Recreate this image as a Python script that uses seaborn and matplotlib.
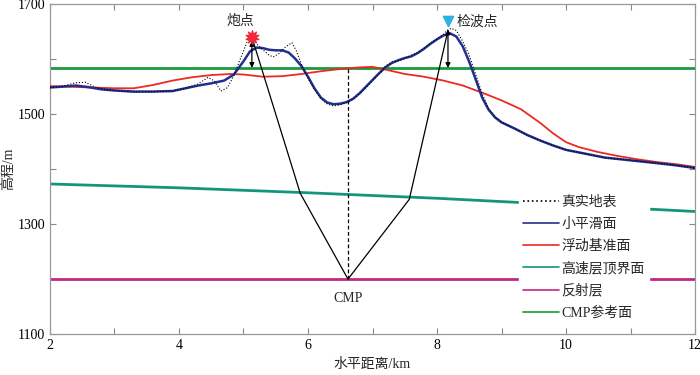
import numpy as np
import pandas as pd
import matplotlib
matplotlib.use('Agg')
import matplotlib.pyplot as plt
import seaborn as sns

# 真实地表 (dotted)
true_x = [2.0, 2.2, 2.4, 2.55, 2.7, 2.9, 3.3, 3.6, 3.9, 4.1, 4.3, 4.45, 4.55, 4.65, 4.75, 4.85,
          4.95, 5.05, 5.12, 5.2, 5.3, 5.4, 5.46, 5.55, 5.65, 5.75, 5.82, 5.9, 6.0, 6.1, 6.2, 6.3,
          6.4, 6.5, 6.6, 6.7, 6.8, 6.9, 7.0, 7.1, 7.2, 7.3, 7.4, 7.5, 7.6, 7.7, 7.8, 7.9, 8.0,
          8.1, 8.15, 8.22, 8.3, 8.4, 8.5, 8.6, 8.7, 8.8, 8.9, 9.0, 9.2, 9.4, 9.6, 9.8, 10.0,
          10.3, 10.6, 11.0, 11.4, 11.7, 12.0]
true_y = [1548, 1551, 1557, 1558, 1549, 1544, 1540, 1541, 1542, 1547, 1555, 1567, 1560, 1542, 1548, 1570,
          1600, 1630, 1644, 1628, 1617, 1607, 1604, 1610, 1622, 1630, 1615, 1590, 1565, 1545, 1528, 1518,
          1515, 1517, 1521, 1527, 1537, 1549, 1561, 1573, 1587, 1595, 1597, 1601, 1607, 1612, 1620, 1629, 1637,
          1645, 1652, 1656, 1652, 1632, 1607, 1572, 1537, 1510, 1495, 1486, 1474, 1462, 1452, 1443, 1435,
          1428, 1421, 1416, 1411, 1407, 1402]

# 小平滑面
smooth_x = [2.0, 2.2, 2.4, 2.6, 2.8, 3.0, 3.3, 3.6, 3.9, 4.1, 4.3, 4.5, 4.7, 4.85, 5.0, 5.1, 5.2,
            5.3, 5.4, 5.5, 5.6, 5.7, 5.8, 5.9, 6.0, 6.1, 6.2, 6.3, 6.4, 6.5, 6.6, 6.7, 6.8, 6.9,
            7.0, 7.1, 7.2, 7.3, 7.4, 7.5, 7.6, 7.7, 7.8, 7.9, 8.0, 8.1, 8.2, 8.3, 8.4, 8.5, 8.6,
            8.7, 8.8, 8.9, 9.0, 9.2, 9.4, 9.6, 9.8, 10.0, 10.3, 10.6, 11.0, 11.4, 11.7, 12.0]
smooth_y = [1548.5, 1550, 1552, 1549, 1545, 1543, 1541, 1541, 1542, 1547, 1552, 1556, 1561, 1572, 1596, 1614, 1621,
            1620, 1617, 1616, 1616, 1612, 1601, 1587, 1568, 1547, 1530, 1521, 1518, 1519, 1522, 1528, 1538, 1550,
            1562, 1574, 1585, 1593, 1598, 1602, 1605, 1611, 1619, 1628, 1636, 1643, 1647, 1641, 1623, 1595, 1563,
            1530, 1508, 1494, 1485, 1474, 1462, 1452, 1443, 1435, 1428, 1421, 1416, 1411, 1407, 1402]

# 浮动基准面
datum_x = [2.0, 2.5, 3.0, 3.3, 3.6, 3.9, 4.2, 4.5, 4.8, 5.0, 5.3, 5.6, 5.9, 6.2, 6.5, 6.8, 7.0,
           7.2, 7.5, 7.8, 8.1, 8.4, 8.7, 9.0, 9.3, 9.6, 9.8, 10.0, 10.2, 10.5, 10.8, 11.1, 11.4, 11.7, 12.0]
datum_y = [1551, 1549, 1547, 1547, 1553, 1561, 1567, 1571, 1573, 1572, 1568, 1569, 1573, 1578, 1582, 1585, 1586,
           1581, 1573, 1568, 1561, 1552, 1539, 1525, 1509, 1484, 1465, 1449, 1440, 1431, 1424, 1418, 1413, 1409, 1404]

# 高速层顶界面
fast_x = [2, 4, 6, 8, 10, 12]
fast_y = [1373, 1366, 1357, 1347, 1335, 1323]

# 反射层 / CMP参考面
refl_x = [2, 12]
refl_y = [1200, 1200]
cmpref_x = [2, 12]
cmpref_y = [1583, 1583]

# ray path shot -> CMP -> receiver
ray_x = [5.13, 5.88, 6.62, 7.57, 8.17]
ray_y = [1640, 1356, 1200, 1345, 1652]

shot_x, shot_y = 5.13, 1640
recv_x, recv_y = 8.17, 1669
cmp_x = 6.62

sns.set_theme(style='ticks')
plt.rcParams['font.family'] = ['Liberation Serif', 'Noto Sans CJK SC']
plt.rcParams['axes.unicode_minus'] = False

fig = plt.figure(figsize=(7, 3.75), dpi=100)
ax = fig.add_axes([0.0714, 0.109, 0.9215, 0.88])

sns.lineplot(x=cmpref_x, y=cmpref_y, color='#1a9a3c', linewidth=2.0, ax=ax, label='CMP参考面', zorder=2)
sns.lineplot(x=fast_x, y=fast_y, color='#14967c', linewidth=2.0, ax=ax, label='高速层顶界面', zorder=2)
sns.lineplot(x=refl_x, y=refl_y, color='#c2287f', linewidth=2.0, ax=ax, label='反射层', zorder=2)
sns.lineplot(x=datum_x, y=datum_y, color='#ec2a22', linewidth=1.3, ax=ax, label='浮动基准面', zorder=3)
sns.lineplot(x=smooth_x, y=smooth_y, color='#23308f', linewidth=1.8, ax=ax, label='小平滑面', zorder=4)
sns.lineplot(x=true_x, y=true_y, color='black', linewidth=0.8, linestyle=':', ax=ax, label='真实地表', zorder=5)

ax.plot(ray_x, ray_y, color='black', linewidth=0.9, zorder=4)
ax.plot([cmp_x, cmp_x], [1200, 1583], color='black', linewidth=0.9, linestyle=(0, (3, 2)), zorder=4)

ax.annotate('', xy=(shot_x, 1584), xytext=(shot_x, 1633),
            arrowprops=dict(arrowstyle='<|-|>', color='black', lw=0.9, mutation_scale=7,
                            shrinkA=0, shrinkB=0), zorder=6)
ax.annotate('', xy=(recv_x, 1584), xytext=(recv_x, 1654),
            arrowprops=dict(arrowstyle='<|-|>', color='black', lw=0.9, mutation_scale=7,
                            shrinkA=0, shrinkB=0), zorder=6)
ax.scatter([shot_x], [shot_y], marker=(10, 1, 0), s=90, color='#f0283a', zorder=7)
ax.scatter([recv_x], [recv_y], marker='v', s=55, color='#2fb0e0', zorder=7)

ax.text(4.95, 1668, '炮点', ha='center', va='center', fontsize=10)
ax.text(8.3, 1668, '检波点', ha='left', va='center', fontsize=10)
ax.text(cmp_x, 1165, 'CMP', ha='center', va='center', fontsize=10)

ax.set_xlim(2, 12)
ax.set_ylim(1100, 1700)
ax.set_xticks([2, 4, 6, 8, 10, 12])
ax.set_xticks([3, 5, 7, 9, 11], minor=True)
ax.set_yticks([1100, 1300, 1500, 1700])
ax.set_yticks([1200, 1400, 1600], minor=True)
ax.tick_params(which='both', direction='in', top=True, right=True, length=4,
               color='#888888', labelsize=10, labelcolor='black', width=0.8)
for s in ax.spines.values():
    s.set_color('#999999')
    s.set_linewidth(0.9)
ax.set_xlabel('水平距离/km', fontsize=10, labelpad=4)
ax.set_ylabel('高程/m', fontsize=10, labelpad=2)

handles, labels = ax.get_legend_handles_labels()
order = ['真实地表', '小平滑面', '浮动基准面', '高速层顶界面', '反射层', 'CMP参考面']
hmap = dict(zip(labels, handles))
leg = ax.legend([hmap[k] for k in order], order, loc='lower left', bbox_to_anchor=(0.727, 0.03),
                frameon=True, framealpha=1.0, edgecolor='white', facecolor='white', fancybox=False,
                fontsize=10, handlelength=2.6, handletextpad=0.15, labelspacing=0.64,
                borderpad=0.3, borderaxespad=0)
for h in leg.get_lines():
    h.set_linewidth(1.2)

fig.savefig('out.png', dpi=100)
